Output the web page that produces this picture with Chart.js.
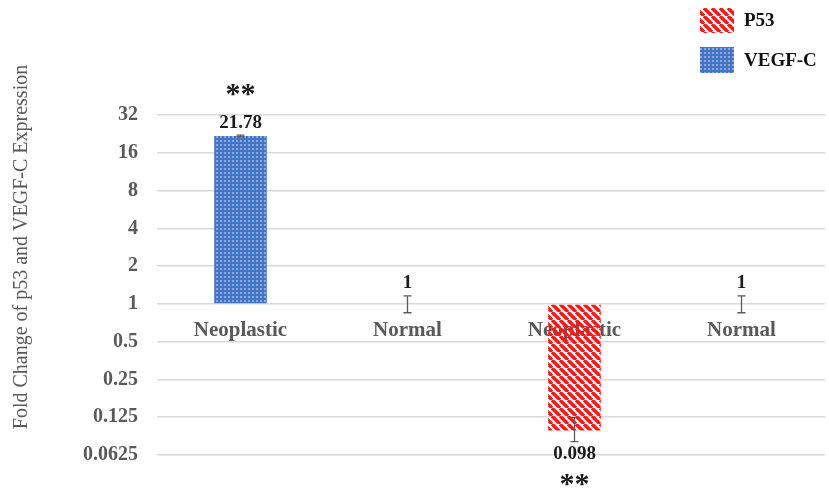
<!DOCTYPE html>
<html>
<head>
<meta charset="utf-8">
<script src="https://cdn.jsdelivr.net/npm/chart.js@4.4.1/dist/chart.umd.min.js"></script>
<style>
  html, body { margin: 0; padding: 0; background: #ffffff; }
  #chart { display: block; }
</style>
</head>
<body>
<canvas id="chart" width="829" height="490"></canvas>
<script>
// categories along the x axis
const categories = ["Neoplastic", "Normal", "Neoplastic", "Normal"];

// fold change values (null = no bar for that series)
const p53Values = [null, null, 0.098, 1];
const vegfValues = [21.78, 1, null, null];

// error bar extents (above / below the value)
const p53ErrUp = [null, null, 0.026, 0.16];
const p53ErrDown = [null, null, 0.018, 0.15];
const vegfErrUp = [0.35, 0.16, null, null];
const vegfErrDown = [0.35, 0.15, null, null];

// significance marks per category
const significance = ["**", "", "**", ""];

// log2 axis ticks
const yTicks = [0.0625, 0.125, 0.25, 0.5, 1, 2, 4, 8, 16, 32];
const yTickLabels = ["0.0625", "0.125", "0.25", "0.5", "1", "2", "4", "8", "16", "32"];

const yTitle = "Fold Change of p53 and VEGF-C Expression";

const SERIF = "'Liberation Serif', 'Times New Roman', serif";

function stripePattern() {
  const c = document.createElement("canvas");
  c.width = 8; c.height = 8;
  const g = c.getContext("2d");
  g.strokeStyle = "#ff1414";
  g.lineWidth = 3.4;
  [-8, 0, 8].forEach(k => {
    g.beginPath();
    g.moveTo(k, 0);
    g.lineTo(k + 8, 8);
    g.stroke();
  });
  return g.createPattern(c, "repeat");
}

function dotPattern() {
  const c = document.createElement("canvas");
  c.width = 4; c.height = 4;
  const g = c.getContext("2d");
  g.fillStyle = "#4674c4";
  g.fillRect(0, 0, 4, 4);
  g.fillStyle = "#8aaae0";
  g.fillRect(0, 0, 2, 2);
  return g.createPattern(c, "repeat");
}

const ctx = document.getElementById("chart").getContext("2d");

// Error bars + value labels + significance stars
const annotations = {
  id: "annotations",
  afterDatasetsDraw(chart) {
    const g = chart.ctx;
    const y = chart.scales.y;
    const errs = [[p53ErrUp, p53ErrDown], [vegfErrUp, vegfErrDown]];
    chart.data.datasets.forEach((ds, di) => {
      const meta = chart.getDatasetMeta(di);
      meta.data.forEach((bar, i) => {
        const v = ds.data[i];
        if (v === null) return;
        const up = errs[di][0][i], down = errs[di][1][i];
        const yHi = y.getPixelForValue(v + up);
        const yLo = y.getPixelForValue(v - down);
        const x = bar.x;

        g.save();
        g.strokeStyle = "#595959";
        g.lineWidth = 1.3;
        g.beginPath();
        g.moveTo(x, yHi); g.lineTo(x, yLo);
        g.moveTo(x - 4, yHi); g.lineTo(x + 4, yHi);
        g.moveTo(x - 4, yLo); g.lineTo(x + 4, yLo);
        g.stroke();

        g.fillStyle = "#1a1a1a";
        g.textAlign = "center";
        g.font = "bold 19px " + SERIF;
        const label = String(v);
        if (v >= 1) {
          g.textBaseline = "bottom";
          g.fillText(label, x, yHi - 3);
          if (significance[i]) {
            g.font = "bold 30px " + SERIF;
            g.fillText(significance[i], x, yHi - 25);
          }
        } else {
          g.textBaseline = "top";
          g.fillText(label, x, yLo + 3);
          if (significance[i]) {
            g.font = "bold 30px " + SERIF;
            g.fillText(significance[i], x, yLo + 29);
          }
        }
        g.restore();
      });
    });
  }
};

// Stacked legend in the top right corner + rotated axis title
const cornerLegend = {
  id: "cornerLegend",
  afterDraw(chart) {
    const g = chart.ctx;
    const rows = [{ y: 8, h: 25 }, { y: 47, h: 26 }];
    chart.data.datasets.forEach((ds, i) => {
      const r = rows[i];
      g.save();
      g.fillStyle = ds.backgroundColor;
      g.fillRect(700, r.y, 34, r.h);
      g.fillStyle = "#111111";
      g.font = "bold 19px " + SERIF;
      g.textAlign = "left";
      g.textBaseline = "middle";
      g.fillText(ds.label, 744, r.y + r.h / 2 + 1);
      g.restore();
    });

    g.save();
    g.translate(22, 247);
    g.rotate(-Math.PI / 2);
    g.fillStyle = "#595959";
    g.font = "20px " + SERIF;
    g.textAlign = "center";
    g.textBaseline = "middle";
    g.fillText(yTitle, 0, 0);
    g.restore();
  }
};

new Chart(ctx, {
  type: "bar",
  data: {
    labels: categories,
    datasets: [
      {
        label: "P53",
        data: p53Values,
        base: 1,
        backgroundColor: stripePattern(),
        borderWidth: 0
      },
      {
        label: "VEGF-C",
        data: vegfValues,
        base: 1,
        backgroundColor: dotPattern(),
        borderWidth: 0
      }
    ]
  },
  options: {
    responsive: false,
    animation: false,
    skipNull: true,
    categoryPercentage: 1,
    barPercentage: 0.315,
    layout: { padding: { top: 115, bottom: 35, left: 0, right: 4 } },
    plugins: {
      legend: { display: false },
      tooltip: { enabled: false }
    },
    scales: {
      x: {
        position: { y: 1 },
        grid: { display: false, drawTicks: false },
        border: { display: false },
        ticks: {
          color: "#595959",
          padding: 14,
          font: { family: SERIF, size: 21, weight: "bold" }
        }
      },
      y: {
        type: "logarithmic",
        min: 0.0625,
        max: 32,
        afterBuildTicks: (scale) => {
          scale.ticks = yTicks.map(v => ({ value: v }));
        },
        afterFit: (scale) => { scale.width = 157; },
        grid: { color: "#d9d9d9", lineWidth: 1.5, drawTicks: false },
        border: { display: false },
        ticks: {
          color: "#595959",
          padding: 19,
          font: { family: SERIF, size: 20, weight: "bold" },
          callback: (v) => yTickLabels[yTicks.indexOf(v)]
        }
      }
    }
  },
  plugins: [annotations, cornerLegend]
});
</script>
</body>
</html>
